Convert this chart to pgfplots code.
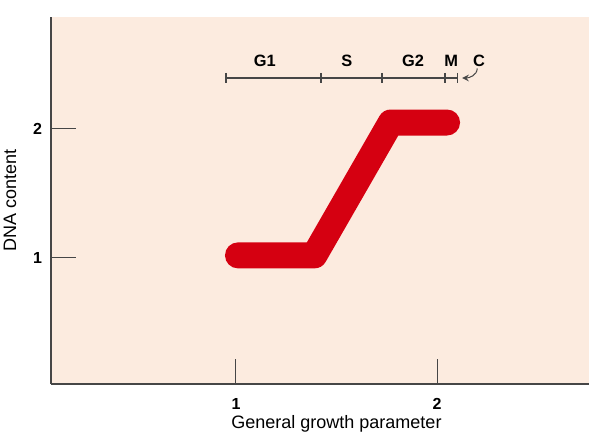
\documentclass[border=0pt]{standalone}
\usepackage{pgfplots}
\pgfplotsset{compat=1.18}
\usepackage{fontspec}
\setmainfont{Liberation Sans}
\definecolor{bg}{RGB}{252,235,223}
\definecolor{dnared}{RGB}{213,0,17}
\definecolor{axgray}{RGB}{70,70,70}
\begin{document}
\begin{tikzpicture}
\begin{axis}[
  name=ax,
  scale only axis,
  width=269pt, height=183.5pt,
  xmin=0.08, xmax=2.756,
  ymin=0.023, ymax=2.868,
  axis lines=left,
  axis line style={-, color=axgray, line width=0.8pt},
  axis background/.style={fill=bg},
  tick align=inside,
  major tick length=12.5pt,
  tick style={color=axgray, line width=0.5pt},
  xtick={1,2}, xticklabels={\textbf{1},\textbf{2}},
  ytick={1,2},
  yticklabels={\textbf{1},\textbf{2}},
  ticklabel style={font=\fontsize{8}{9}\selectfont},
  xticklabel style={yshift=-3.5pt},
  yticklabel style={xshift=-1pt},
  xlabel={General growth parameter},
  ylabel={DNA content},
  label style={font=\fontsize{9}{10}\selectfont},
  xlabel style={at={(axis cs:1.5,0.023)}, anchor=center, yshift=-20pt},
  ylabel style={at={(axis description cs:-0.0762,0.5)}, anchor=center},
  clip=false,
]
\addplot[color=dnared, line width=13pt, line cap=round, line join=round]
  coordinates {(1.01,1.02) (1.39,1.02) (1.77,2.05) (2.05,2.05)};
\addplot[color=axgray, line width=0.6pt, mark=|, mark size=2.6pt,
  mark options={line width=0.6pt}]
  coordinates {(0.95,2.395) (1.423,2.395) (1.726,2.395) (2.040,2.395) (2.100,2.395)};
\begin{scope}[font=\fontsize{8.2}{9}\selectfont\bfseries]
\node at (axis cs:1.144,2.527) {G1};
\node at (axis cs:1.552,2.527) {S};
\node at (axis cs:1.881,2.527) {G2};
\node at (axis cs:2.070,2.527) {M};
\node at (axis cs:2.209,2.527) {C};
\end{scope}
\draw[-stealth, color=axgray, line width=0.5pt]
  (axis cs:2.200,2.47) to[out=-90, in=0] (axis cs:2.125,2.395);
\end{axis}
\pgfresetboundingbox
\path ([xshift=-25.5pt,yshift=-27.5pt]ax.south west) rectangle ([xshift=5.5pt,yshift=8.5pt]ax.north east);
\end{tikzpicture}
\end{document}
